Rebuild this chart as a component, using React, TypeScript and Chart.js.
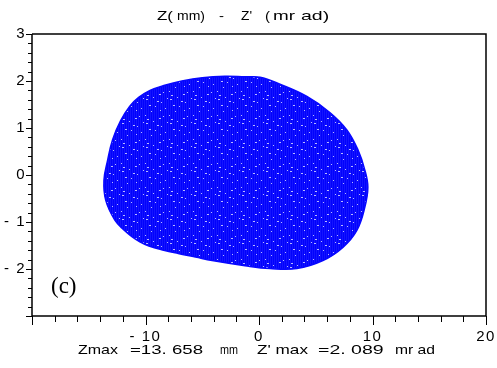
import React, { useEffect, useRef } from "react";
import { Chart, registerables } from "chart.js";

Chart.register(...registerables);

// Outline of the particle distribution (Z in mm, Z' in mrad)
const blobZ = [-1.23, -3.0, -5.0, -6.8, -8.3, -9.6, -10.6, -11.4, -12.2, -12.9, -13.35, -13.66, -13.5, -12.7, -11.9, -11.2, -10.5, -9.7, -8.4, -7.12, -5.6, -4.13, -1.23, 0.97, 3.34, 5.63, 7.39, 8.62, 9.32, 9.59, 9.32, 8.71, 7.74, 6.24, 4.22, 1.85, 0.09, -1.23];
const blobZp = [2.089, 2.1, 2.07, 2.0, 1.91, 1.8, 1.65, 1.46, 1.15, 0.75, 0.3, -0.11, -0.54, -0.96, -1.17, -1.31, -1.42, -1.51, -1.6, -1.67, -1.745, -1.82, -1.93, -1.99, -1.99, -1.82, -1.54, -1.18, -0.69, -0.26, 0.11, 0.54, 0.96, 1.33, 1.67, 1.93, 2.08, 2.089];

const xTickValues = [-10, 0, 10, 20];
const yTickValues = [-2, -1, 0, 1, 2, 3];
const xMinorStep = 2;
const yMinorStep = 0.2;

// text pieces with the horizontal span they take in the picture
const titleParts: [string, number, number][] = [
  ["Z(", 157, 173],
  ["mm)", 177, 205],
  ["-", 219, 224],
  ["Z'", 241, 252],
  ["(", 265, 270],
  ["mr", 273, 295],
  ["ad)", 301, 334],
];
const footerParts: [string, number, number][] = [
  ["Zmax", 78, 118],
  ["=13. 658", 130, 203],
  ["mm", 220, 238],
  ["Z' max", 257, 308],
  ["=2. 089", 318, 385],
  ["mr ad", 395, 435],
];
const panelLabel = "(c)";

// fixed speckle positions for the fill texture (style only)
const speckles = [
  [2, 3], [9, 1], [17, 6], [5, 9], [21, 12], [1, 19], [13, 5], [19, 20],
  [7, 15], [15, 22], [11, 10], [23, 2], [3, 23], [16, 14],
];

const fmt = (v: number) => (v < 0 ? "- " + Math.abs(v) : String(v));

function drawSpan(ctx: CanvasRenderingContext2D, text: string, x0: number, x1: number, y: number) {
  const natural = ctx.measureText(text).width;
  const sx = Math.min(Math.max((x1 - x0) / natural, 0.75), 1.5);
  ctx.save();
  ctx.translate(x0, y);
  ctx.scale(sx, 1);
  ctx.fillText(text, 0, 0);
  ctx.restore();
}

export default function App() {
  const ref = useRef<HTMLCanvasElement | null>(null);

  useEffect(() => {
    document.body.style.margin = "0";
    const canvas = ref.current;
    if (!canvas) return;

    const tile = document.createElement("canvas");
    tile.width = 24;
    tile.height = 24;
    const tctx = tile.getContext("2d")!;
    tctx.fillStyle = "rgb(2,2,252)";
    tctx.fillRect(0, 0, 24, 24);
    tctx.fillStyle = "rgb(20,20,255)";
    for (let i = 0; i < 24; i += 2) tctx.fillRect(i, 0, 1, 24);
    tctx.fillStyle = "rgb(185,185,255)";
    speckles.forEach(([a, b], i) => tctx.fillRect(a, b, i % 3 === 0 ? 2 : 1, 1));
    const pattern = canvas.getContext("2d")!.createPattern(tile, "repeat")!;

    const frame = {
      id: "frame",
      beforeDraw(chart: any) {
        (chart.ctx as any).letterSpacing = "1.5px";
      },
      afterDraw(chart: any) {
        const { ctx, chartArea: ca, scales } = chart;
        (ctx as any).letterSpacing = "0px";
        const xs = scales.x;
        const ys = scales.y;
        ctx.save();
        ctx.strokeStyle = "#000";
        ctx.lineWidth = 1.5;
        ctx.beginPath();
        ctx.moveTo(ca.left, ca.top);
        ctx.lineTo(ca.right, ca.top);
        ctx.lineTo(ca.right, ca.bottom);
        ctx.lineTo(ca.left, ca.bottom);
        ctx.lineTo(ca.left, ca.top);
        ctx.stroke();
        ctx.lineWidth = 1;
        ctx.beginPath();
        for (let v = -20; v <= 20 + 1e-9; v += xMinorStep) {
          const px = Math.round(xs.getPixelForValue(v)) + 0.5;
          const major = Math.abs(v % 10) < 1e-9;
          ctx.moveTo(px, ca.bottom);
          ctx.lineTo(px, ca.bottom + (major ? 9 : 6));
        }
        for (let v = -3; v <= 3 + 1e-9; v += yMinorStep) {
          const py = Math.round(ys.getPixelForValue(v)) + 0.5;
          const major = Math.abs(v - Math.round(v)) < 1e-6;
          ctx.moveTo(ca.left, py);
          ctx.lineTo(ca.left - (major ? 6 : 4), py);
        }
        ctx.stroke();
        ctx.fillStyle = "#000";
        ctx.font = "13px 'Liberation Sans', Arial, sans-serif";
        ctx.textAlign = "left";
        ctx.textBaseline = "alphabetic";
        titleParts.forEach(([t, a, b]) => drawSpan(ctx, t, a, b, 20));
        footerParts.forEach(([t, a, b]) => drawSpan(ctx, t, a, b, 354));
        ctx.font = "23px 'Liberation Serif', 'Times New Roman', serif";
        ctx.fillText(panelLabel, 51, 293);
        ctx.restore();
      },
    };

    const chart = new Chart(canvas, {
      type: "line",
      data: {
        datasets: [
          {
            data: blobZ.map((z, i) => ({ x: z, y: blobZp[i] })),
            borderColor: "rgb(8,8,255)",
            backgroundColor: pattern,
            borderWidth: 1.5,
            pointRadius: 0,
            fill: "shape",
            tension: 0.4,
          },
        ],
      },
      options: {
        responsive: false,
        animation: false,
        layout: { padding: { top: 34, right: 11, left: 0, bottom: 0 } },
        plugins: { legend: { display: false }, tooltip: { enabled: false }, title: { display: false } },
        scales: {
          x: {
            type: "linear",
            min: -20,
            max: 20,
            grid: { display: false, drawTicks: false },
            border: { display: false },
            afterBuildTicks: (s: any) => {
              s.ticks = xTickValues.map((v) => ({ value: v }));
            },
            afterFit: (s: any) => {
              s.height = 52;
              s.paddingLeft = 0;
              s.paddingRight = 0;
            },
            ticks: {
              autoSkip: false,
              maxRotation: 0,
              padding: 12,
              color: "#000",
              font: { family: "'Liberation Sans', Arial, sans-serif", size: 15 },
              callback: (v: any) => fmt(Number(v)),
            },
          },
          y: {
            type: "linear",
            min: -3,
            max: 3,
            grid: { display: false, drawTicks: false },
            border: { display: false },
            afterBuildTicks: (s: any) => {
              s.ticks = yTickValues.map((v) => ({ value: v }));
            },
            afterFit: (s: any) => {
              s.width = 32;
              s.paddingTop = 0;
              s.paddingBottom = 0;
            },
            ticks: {
              autoSkip: false,
              padding: 6,
              color: "#000",
              font: { family: "'Liberation Sans', Arial, sans-serif", size: 15 },
              callback: (v: any) => fmt(Number(v)),
            },
          },
        },
      },
      plugins: [frame],
    });

    return () => chart.destroy();
  }, []);

  return <canvas ref={ref} width={497} height={368} style={{ display: "block" }} />;
}
